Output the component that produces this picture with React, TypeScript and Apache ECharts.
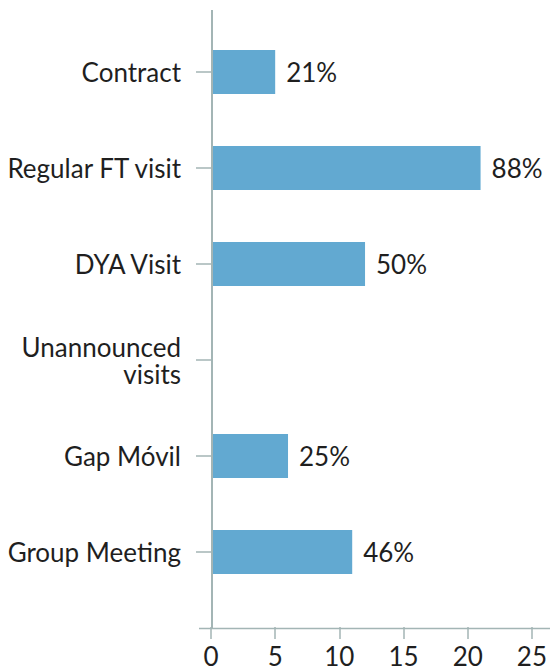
import React, { useEffect, useRef } from "react";
import * as echarts from "echarts";

const categories = ["Contract", "Regular FT visit", "DYA Visit", "Unannounced\nvisits", "Gap Móvil", "Group Meeting"];
const values = [5, 21, 12, 0, 6, 11];
const percentLabels = ["21%", "88%", "50%", "", "25%", "46%"];
const xTicks = [0, 5, 10, 15, 20, 25];

const AXIS_COLOR = "#a3b5b5";
const TEXT_COLOR = "#1f1f1f";
const FONT = "Lato, 'Noto Sans', sans-serif";
const FS = 26;
const FW = 400;

export default function App() {
  const ref = useRef<HTMLDivElement>(null);
  useEffect(() => {
    if (!ref.current) return;
    const chart = echarts.init(ref.current, undefined, { renderer: "svg" });
    chart.setOption({
      animation: false,
      backgroundColor: "#ffffff",
      textStyle: { fontFamily: FONT },
      grid: { left: 211, right: 14, top: 24, bottom: 68, containLabel: false },
      xAxis: {
        type: "value",
        min: xTicks[0],
        max: xTicks[xTicks.length - 1],
        interval: 5,
        offset: 27,
        axisLine: { show: false },
        axisTick: { show: true, length: 12, lineStyle: { color: AXIS_COLOR, width: 1.5 } },
        splitLine: { show: false },
        axisLabel: { color: TEXT_COLOR, fontSize: FS, fontWeight: FW, fontFamily: FONT, margin: 18, lineHeight: 22 },
      },
      yAxis: {
        type: "category",
        data: categories,
        inverse: true,
        axisLine: { show: false },
        axisTick: { show: true, alignWithLabel: true, length: 15, lineStyle: { color: AXIS_COLOR, width: 1.5 } },
        axisLabel: { color: TEXT_COLOR, fontSize: FS, fontWeight: FW, fontFamily: FONT, margin: 30, lineHeight: 27, align: "right" },
      },
      series: [
        {
          type: "bar",
          data: values,
          barWidth: 44,
          itemStyle: { color: "#62a9d1" },
          label: {
            show: true,
            position: "right",
            distance: 11,
            color: TEXT_COLOR,
            fontSize: FS,
            fontWeight: FW,
            fontFamily: FONT,
            formatter: (p: any) => percentLabels[p.dataIndex],
          },
        },
      ],
      graphic: [
        {
          type: "line",
          shape: { x1: 212, y1: 10, x2: 212, y2: 628 },
          style: { stroke: AXIS_COLOR, lineWidth: 2 },
          z: 10,
        },
        {
          type: "line",
          shape: { x1: 199, y1: 628.5, x2: 550, y2: 628.5 },
          style: { stroke: AXIS_COLOR, lineWidth: 1.5 },
          z: 10,
        },
      ],
    });
    return () => chart.dispose();
  }, []);
  return (
    <div
      ref={ref}
      style={{ position: "fixed", left: 0, top: 0, width: 550, height: 669 }}
    />
  );
}
